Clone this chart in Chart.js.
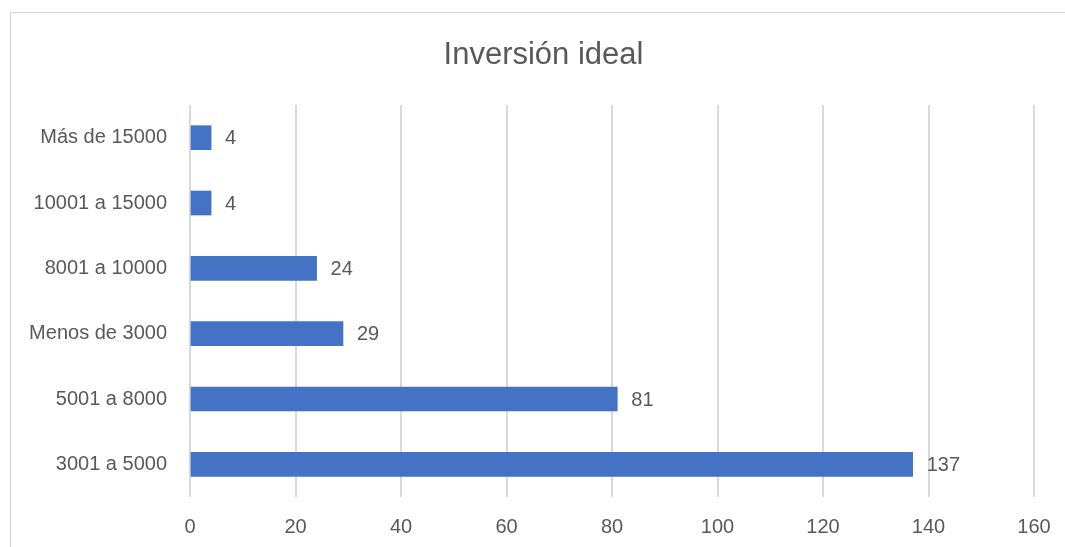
<!DOCTYPE html>
<html>
<head>
<meta charset="utf-8">
<script src="https://cdn.jsdelivr.net/npm/chart.js@4"></script>
<style>
  html, body { margin: 0; padding: 0; background: #fff; overflow: hidden; }
  #frame { position: absolute; left: 10px; top: 12px; width: 1100px; height: 600px; border: 1px solid #d4d4d4; }
  #wrap { position: absolute; left: 0; top: 0; width: 1065px; height: 547px; }
</style>
</head>
<body>
<div id="frame"></div>
<div id="wrap"><canvas id="chart"></canvas></div>
<script>
// datos del gráfico
const categorias = ['Más de 15000', '10001 a 15000', '8001 a 10000', 'Menos de 3000', '5001 a 8000', '3001 a 5000'];
const valores = [4, 4, 24, 29, 81, 137];
const ejeX = { min: 0, max: 160, paso: 20 };

const gris = '#595959';
const fuente = "'Liberation Sans', Arial, sans-serif";

// etiquetas de valor a la derecha de cada barra
const etiquetasValor = {
  id: 'etiquetasValor',
  afterLayout(chart) {
    // el título va centrado en el marco completo (que sigue fuera de la imagen)
    if (chart.titleBlock) {
      chart.titleBlock.left = 22;
      chart.titleBlock.right = 1065;
    }
  },
  afterDatasetsDraw(chart) {
    const ctx = chart.ctx;
    const meta = chart.getDatasetMeta(0);
    ctx.save();
    ctx.fillStyle = gris;
    ctx.font = '20px ' + fuente;
    ctx.textAlign = 'left';
    ctx.textBaseline = 'middle';
    meta.data.forEach((bar, i) => {
      ctx.fillText(String(valores[i]), bar.x + 14, bar.y + 1);
    });
    ctx.restore();
  }
};

const ctx = document.getElementById('chart').getContext('2d');
new Chart(ctx, {
  type: 'bar',
  data: {
    labels: categorias,
    datasets: [{
      data: valores,
      backgroundColor: '#4472C4',
      borderWidth: 0,
      barThickness: 24
    }]
  },
  options: {
    indexAxis: 'y',
    responsive: true,
    maintainAspectRatio: false,
    animation: false,
    layout: { padding: { left: 0, right: 31, top: 0, bottom: 0 } },
    plugins: {
      legend: { display: false },
      tooltip: { enabled: false },
      title: {
        display: true,
        text: 'Inversión ideal',
        color: gris,
        font: { family: fuente, size: 31, weight: 'normal', lineHeight: 1.2 },
        padding: { top: 37, bottom: 30.8 }
      }
    },
    scales: {
      x: {
        min: ejeX.min,
        max: ejeX.max,
        ticks: {
          stepSize: ejeX.paso,
          color: gris,
          padding: 18,
          font: { family: fuente, size: 20 }
        },
        grid: { color: '#d9d9d9', lineWidth: 2, drawTicks: false },
        border: { display: false },
        afterFit(scale) {
          scale.height = 50;
          scale.paddingLeft = 0;
          scale.paddingRight = 0;
        }
      },
      y: {
        ticks: {
          color: gris,
          padding: 23,
          font: { family: fuente, size: 20 }
        },
        grid: { display: false, drawTicks: false },
        border: { display: false },
        afterFit(scale) { scale.width = 190; }
      }
    }
  },
  plugins: [etiquetasValor]
});
</script>
</body>
</html>
